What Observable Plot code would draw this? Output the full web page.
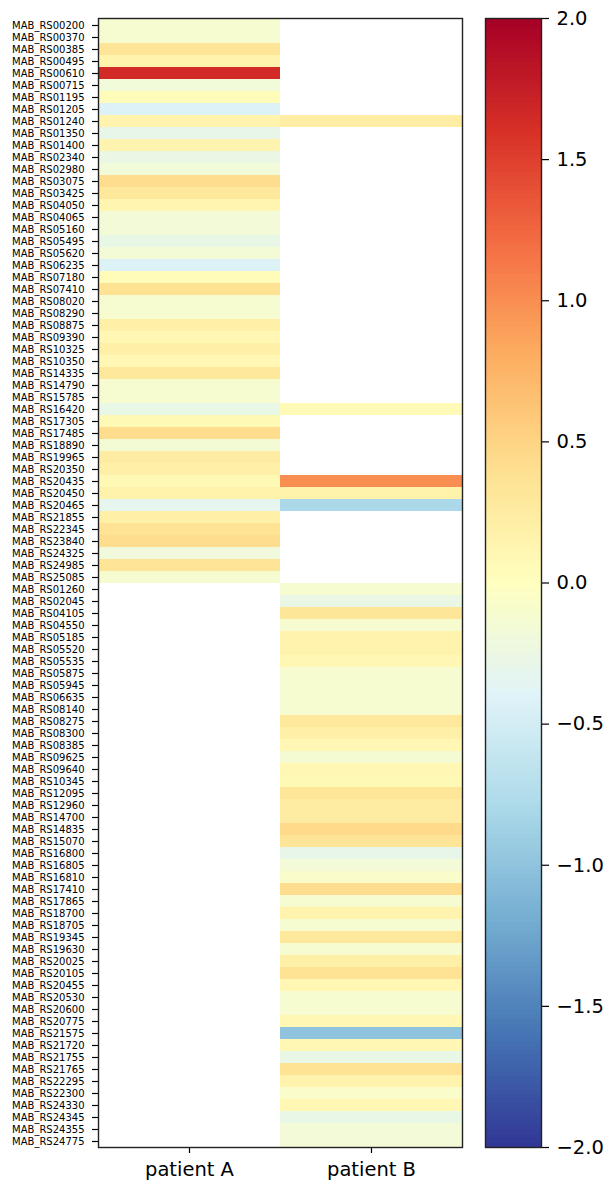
<!DOCTYPE html>
<html>
<head>
<meta charset="utf-8">
<script src="https://cdn.jsdelivr.net/npm/d3@7"></script>
<script src="https://cdn.jsdelivr.net/npm/@observablehq/plot@0.6"></script>
<style>
  html, body { margin: 0; padding: 0; background: white; }
  #wrap { position: relative; width: 606px; height: 1183px; }
  #wrap svg { position: absolute; left: 0; top: 0; }
</style>
</head>
<body>
<div id="wrap"></div>
<script>
// ---- data ----
const patients = ["patient A", "patient B"];

const genesA = ["MAB_RS00200","MAB_RS00370","MAB_RS00385","MAB_RS00495","MAB_RS00610","MAB_RS00715","MAB_RS01195","MAB_RS01205","MAB_RS01240","MAB_RS01350","MAB_RS01400","MAB_RS02340","MAB_RS02980","MAB_RS03075","MAB_RS03425","MAB_RS04050","MAB_RS04065","MAB_RS05160","MAB_RS05495","MAB_RS05620","MAB_RS06235","MAB_RS07180","MAB_RS07410","MAB_RS08020","MAB_RS08290","MAB_RS08875","MAB_RS09390","MAB_RS10325","MAB_RS10350","MAB_RS14335","MAB_RS14790","MAB_RS15785","MAB_RS16420","MAB_RS17305","MAB_RS17485","MAB_RS18890","MAB_RS19965","MAB_RS20350","MAB_RS20435","MAB_RS20450","MAB_RS20465","MAB_RS21855","MAB_RS22345","MAB_RS23840","MAB_RS24325","MAB_RS24985","MAB_RS25085"];
const valuesA = [-0.12,-0.12,0.35,0.15,1.65,-0.18,0.04,-0.42,0.15,-0.3,0.14,-0.27,-0.18,0.42,0.3,0.13,-0.17,-0.17,-0.28,-0.16,-0.42,0.05,0.36,-0.12,-0.12,0.2,0.1,0.2,0.1,0.3,-0.12,-0.12,-0.28,0.08,0.42,-0.15,0.25,0.2,0.08,0.17,-0.32,0.2,0.36,0.42,-0.2,0.35,-0.12];

// patient B values for genes shared with patient A
const sharedB = ["MAB_RS01240","MAB_RS16420","MAB_RS20435","MAB_RS20450","MAB_RS20465"];
const sharedBValues = [0.22,0.06,1.0,0.16,-0.8];

const genesBOnly = ["MAB_RS01260","MAB_RS02045","MAB_RS04105","MAB_RS04550","MAB_RS05185","MAB_RS05520","MAB_RS05535","MAB_RS05875","MAB_RS05945","MAB_RS06635","MAB_RS08140","MAB_RS08275","MAB_RS08300","MAB_RS08385","MAB_RS09625","MAB_RS09640","MAB_RS10345","MAB_RS12095","MAB_RS12960","MAB_RS14700","MAB_RS14835","MAB_RS15070","MAB_RS16800","MAB_RS16805","MAB_RS16810","MAB_RS17410","MAB_RS17865","MAB_RS18700","MAB_RS18705","MAB_RS19345","MAB_RS19630","MAB_RS20025","MAB_RS20105","MAB_RS20455","MAB_RS20530","MAB_RS20600","MAB_RS20775","MAB_RS21575","MAB_RS21720","MAB_RS21755","MAB_RS21765","MAB_RS22295","MAB_RS22300","MAB_RS24330","MAB_RS24345","MAB_RS24355","MAB_RS24775"];
const valuesBOnly = [-0.12,-0.27,0.32,-0.12,0.15,0.15,0.1,-0.12,-0.12,-0.12,-0.12,0.3,0.2,0.1,-0.14,0.1,0.08,0.32,0.25,0.25,0.45,0.35,-0.3,-0.17,-0.07,0.42,-0.12,0.15,-0.12,0.3,-0.12,0.2,0.36,0.1,-0.12,-0.12,0.1,-1.0,0.1,-0.28,0.36,0.15,-0.07,0.1,-0.28,-0.17,-0.17];

const colorbarTicks = [-2.0,-1.5,-1.0,-0.5,0.0,0.5,1.0,1.5,2.0];

// ---- build table ----
const rows = [...genesA, ...genesBOnly];
const cells = [];
genesA.forEach((g, i) => cells.push({gene: g, patient: "patient A", value: valuesA[i]}));
sharedB.forEach((g, i) => cells.push({gene: g, patient: "patient B", value: sharedBValues[i]}));
genesBOnly.forEach((g, i) => cells.push({gene: g, patient: "patient B", value: valuesBOnly[i]}));

// matplotlib RdYlBu_r (linear segments)
const rdylbu = ["#a50026","#d73027","#f46d43","#fdae61","#fee090","#ffffbf","#e0f3f8","#abd9e9","#74add1","#4575b4","#313695"];
const interp = d3.piecewise(d3.interpolateRgb, rdylbu.slice().reverse());
const colorOpts = {type: "linear", domain: [-2, 2], interpolate: () => interp};

const W = 606, H = 1183;
const fmt = d => d.toFixed(1).replace("-", "\u2212");

const main = Plot.plot({
  width: W, height: H,
  marginLeft: 98, marginRight: 144, marginTop: 18, marginBottom: 36,
  style: {fontFamily: "DejaVu Sans", background: "transparent", color: "black"},
  x: {domain: patients, padding: 0, label: null},
  y: {domain: rows, padding: 0, label: null},
  color: colorOpts,
  marks: [
    Plot.cell(cells, {x: "patient", y: "gene", fill: "value", inset: 0, shapeRendering: "crispEdges"}),
    Plot.axisY({tickSize: 6, tickPadding: 8, fontSize: 10, label: null, stroke: "black", strokeWidth: 1.2}),
    Plot.axisX({tickSize: 6, tickPadding: 9, fontSize: 19.5, label: null, stroke: "black", strokeWidth: 1.2}),
    Plot.frame({stroke: "#222", strokeWidth: 1.4})
  ]
});

const steps = d3.range(0, 256).map(i => ({y1: -2 + i * 4 / 256, y2: -2 + (i + 1) * 4 / 256, v: -2 + (i + 0.5) * 4 / 256}));

const bar = Plot.plot({
  width: W, height: H,
  marginLeft: 485, marginRight: 65, marginTop: 18, marginBottom: 36,
  style: {fontFamily: "DejaVu Sans", background: "transparent", color: "black"},
  x: {domain: [0, 1], axis: null},
  y: {domain: [-2, 2], label: null},
  color: colorOpts,
  marks: [
    Plot.rect(steps, {x1: 0, x2: 1, y1: "y1", y2: "y2", fill: "v", shapeRendering: "crispEdges"}),
    Plot.axisY({anchor: "right", ticks: colorbarTicks, tickFormat: fmt, tickSize: 7, tickPadding: 8, fontSize: 19.5, label: null, stroke: "black", strokeWidth: 1.2}),
    Plot.frame({stroke: "#222", strokeWidth: 1.4})
  ]
});

const wrap = document.getElementById("wrap");
wrap.appendChild(main);
wrap.appendChild(bar);
</script>
</body>
</html>
